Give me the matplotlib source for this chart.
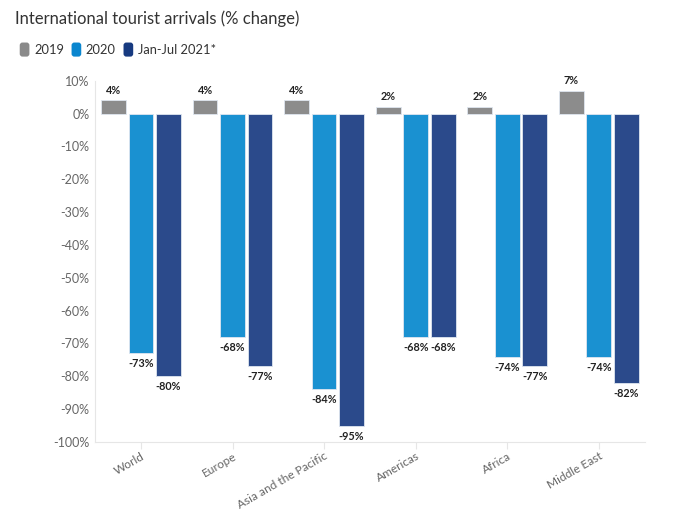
import numpy as np
import matplotlib.pyplot as plt
from matplotlib.patches import Patch, FancyBboxPatch
from matplotlib.legend_handler import HandlerPatch

regions = ['World', 'Europe', 'Asia and the Pacific', 'Americas', 'Africa', 'Middle East']
series = ['2019', '2020', 'Jan-Jul 2021*']
vals_2019 = [4, 4, 4, 2, 2, 7]
vals_2020 = [-73, -68, -84, -68, -74, -74]
vals_2021 = [-80, -77, -95, -68, -77, -82]
colors = ['#8c8c8c', '#1a91d1', '#2b4a8b']
legend_colors = ['#8a8a8a', '#0a86cf', '#173a80']

plt.rcParams['font.family'] = ['Lato', 'DejaVu Sans']


class RoundHandler(HandlerPatch):
    def create_artists(self, legend, orig_handle, xdescent, ydescent,
                       width, height, fontsize, trans):
        p = FancyBboxPatch((-xdescent, -ydescent), width, height,
                           boxstyle='round,pad=0,rounding_size=2',
                           facecolor=orig_handle.get_facecolor(), edgecolor='none',
                           transform=trans)
        return [p]


fig = plt.figure(figsize=(6.75, 5.11), dpi=100)
ax = fig.add_axes([0.141, 0.135, 0.814, 0.707])

x = np.arange(len(regions))
offsets = [-0.3, 0.0, 0.3]
for vals, off, c in zip([vals_2019, vals_2020, vals_2021], offsets, colors):
    bars = ax.bar(x + off, vals, width=0.27, color=c, edgecolor='#dfe6f0', linewidth=0.6)
    for b, v in zip(bars, vals):
        cx = b.get_x() + b.get_width() / 2
        if v >= 0:
            ax.text(cx, v + 1.5, '{}%'.format(v), ha='center', va='bottom',
                    fontsize=7.8, fontweight='bold', color='#222222')
        else:
            ax.text(cx, v - 1.5, '{}%'.format(v), ha='center', va='top',
                    fontsize=7.8, fontweight='bold', color='#222222')

ax.set_xlim(-0.5, 5.5)
ax.set_ylim(-100, 10)
ax.set_yticks(np.arange(-100, 11, 10))
ax.set_yticklabels(['{}%'.format(t) for t in range(-100, 11, 10)])
ax.set_xticks(x)
ax.set_xticklabels(regions, rotation=30, ha='right', rotation_mode='anchor')

for s in ['top', 'right']:
    ax.spines[s].set_visible(False)
for s in ['left', 'bottom']:
    ax.spines[s].set_color('#e6e6e6')
ax.tick_params(axis='y', length=0, colors='#666666', labelsize=9, pad=4)
ax.tick_params(axis='x', length=5, color='#e6e6e6', labelcolor='#666666', labelsize=8.6, pad=1)

fig.text(0.022, 0.963, 'International tourist arrivals (% change)', fontsize=12,
         color='#333333', va='center')
handles = [Patch(facecolor=c, edgecolor='none') for c in legend_colors]
fig.legend(handles, series, loc='center left', bbox_to_anchor=(0.012, 0.903), ncol=3,
           frameon=False, fontsize=9.3, handlelength=0.75, handleheight=1.3,
           handletextpad=0.35, columnspacing=0.6, labelcolor='#333333',
           handler_map={Patch: RoundHandler()})

fig.savefig('out.png', dpi=100)
